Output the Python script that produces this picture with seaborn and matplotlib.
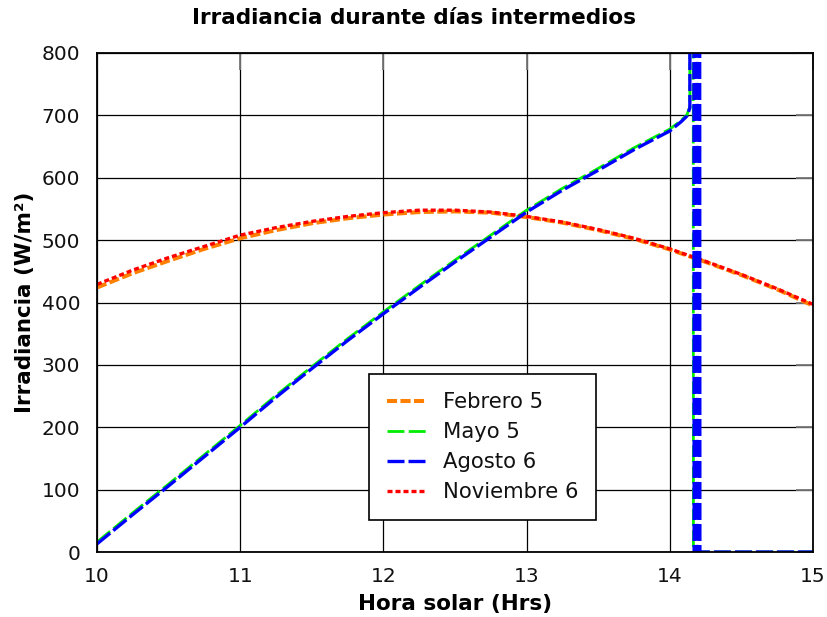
import matplotlib
matplotlib.use("Agg")
import matplotlib.pyplot as plt
import seaborn as sns

# Solar hour samples for the two smooth seasonal curves
hours = [10.0, 10.25, 10.5, 10.75, 11.0, 11.25, 11.5, 11.75, 12.0, 12.25, 12.5,
         12.75, 13.0, 13.25, 13.5, 13.75, 14.0, 14.25, 14.5, 14.75, 15.0]
febrero = [424, 447, 467, 486, 503, 516, 527, 535, 541, 545, 546,
           544, 537, 528, 516, 502, 485, 465, 444, 421, 395]
noviembre = [429, 452, 472, 490, 508, 520, 530, 538, 544, 548, 548,
             545, 538, 529, 517, 503, 486, 466, 445, 422, 397]

# Mayo / Agosto: rising ramp, then the sensor spike and zero readings
mayo_x = [10.0, 10.25, 10.5, 10.75, 11.0, 11.25, 11.5, 11.75, 12.0, 12.25, 12.5,
          12.75, 13.0, 13.25, 13.5, 13.75, 14.0, 14.08, 14.12, 14.14, 14.145,
          14.16, 14.165, 15.0]
mayo_y = [16, 63, 109, 156, 203, 251, 297, 342, 385, 427, 468,
          508, 548, 583, 615, 648, 678, 692, 701, 714, 3000,
          3000, 0, 0]
agosto_x = [10.0, 10.25, 10.5, 10.75, 11.0, 11.25, 11.5, 11.75, 12.0, 12.25, 12.5,
            12.75, 13.0, 13.25, 13.5, 13.75, 14.0, 14.08, 14.12, 14.14, 14.145,
            14.165, 14.17, 14.19, 14.195, 14.205, 14.21, 15.0]
agosto_y = [13, 60, 106, 153, 200, 248, 294, 339, 382, 424, 465,
            505, 545, 580, 612, 645, 675, 690, 699, 712, 3000,
            3000, 0, 0, 3000, 3000, 0, 0]

x_ticks = [10, 11, 12, 13, 14, 15]
y_ticks = [0, 100, 200, 300, 400, 500, 600, 700, 800]

sns.set_style("white")
plt.rcParams["font.family"] = ["DejaVu Sans"]
plt.rcParams["text.color"] = "black"

fig = plt.figure(figsize=(8.28, 6.17), dpi=100)
ax = fig.add_axes([97 / 828, 1 - 552 / 617, 716 / 828, 499 / 617])

common = dict(ax=ax, estimator=None, sort=False)
sns.lineplot(x=hours, y=febrero, color="#ff8000", linewidth=2.9,
             linestyle=(0, (2.5, 0.85)), label="Febrero 5", zorder=2.0, **common)
sns.lineplot(x=mayo_x, y=mayo_y, color="#00ee00", linewidth=2.0,
             linestyle=(0, (6.1, 1.55)), label="Mayo 5", zorder=2.1, **common)
sns.lineplot(x=agosto_x, y=agosto_y, color="#0000ff", linewidth=2.4,
             linestyle=(0, (5.1, 1.2)), label="Agosto 6", zorder=2.3, **common)
sns.lineplot(x=hours, y=noviembre, color="#ff0000", linewidth=2.4,
             linestyle=(0, (1.5, 0.9)), label="Noviembre 6", zorder=2.2, **common)

ax.set_xlim(10, 15)
ax.set_ylim(0, 800)
ax.set_xticks(x_ticks)
ax.set_yticks(y_ticks)
ax.grid(True, color="black", linewidth=0.9)
ax.set_axisbelow(True)
for s in ax.spines.values():
    s.set_color("black")
    s.set_linewidth(1.3)
    s.set_visible(True)

ax.tick_params(axis="both", which="major", direction="in", length=12, width=1.3,
               color="#777777", top=True, right=True, labelsize=14.5,
               labelcolor="#111111")
ax.tick_params(axis="x", pad=10.5)
ax.tick_params(axis="y", pad=12)

ax.set_xlabel("Hora solar (Hrs)", fontsize=15.5, fontweight="bold", va="center",
              color="black")
ax.xaxis.set_label_coords(0.5, (552 - 604) / 499)
ax.set_ylabel("Irradiancia (W/m²)", fontsize=15.5, fontweight="bold", va="center",
              color="black")
ax.yaxis.set_label_coords((25 - 97) / 716, 0.5)

fig.suptitle("Irradiancia durante días intermedios", x=0.5, y=1 - 18 / 617,
             va="center", fontsize=15.5, fontweight="bold", color="black")

leg = ax.legend(loc="lower left", bbox_to_anchor=((369 - 97) / 716, (552 - 520) / 499),
                borderaxespad=0, fontsize=15.2, frameon=True, fancybox=False,
                framealpha=1, edgecolor="black", handlelength=1.85,
                handletextpad=0.8, labelspacing=0.47, borderpad=0.85)
leg.get_frame().set_linewidth(1.2)
for t in leg.get_texts():
    t.set_color("#111111")

fig.savefig("out.png", dpi=100)
